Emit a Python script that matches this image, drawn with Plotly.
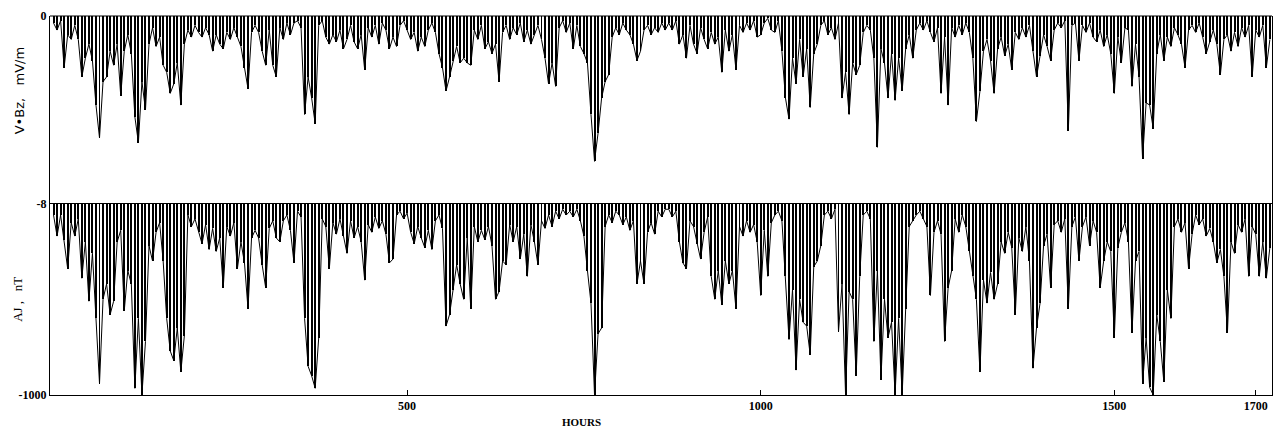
import plotly.graph_objects as go

# Sample times (hours), one sample every 5 hours
hours = list(range(0, 1721, 5))

# V*Bz (mV/m) in six segments
vbz_a = [-0.3,-0.6,-0.2,-2.2,-0.8,-1.0,-0.4,-1.0,-2.6,-1.8,
         -1.2,-1.9,-3.8,-5.2,-2.8,-2.6,-1.5,-2.1,-1.2,-3.4,
         -1.5,-0.8,-1.6,-4.3,-5.4,-2.8,-4.0,-1.2,-0.5,-1.3,
         -0.9,-2.1,-2.4,-3.3,-2.9,-2.0,-3.8,-1.2,-0.6,-0.9,
         -0.4,-0.7,-0.9,-0.5,-0.8,-1.5,-0.8,-1.2,-1.4,-0.7,
         -1.0,-0.5,-0.9,-1.3,-2.2,-3.1,-0.7,-0.4]
vbz_b = [-0.7,-1.5,-2.1,-0.6,-2.1,-2.6,-0.5,-1.0,-0.3,-0.8,
         -0.3,-0.2,-0.5,-4.2,-2.6,-3.5,-4.6,-0.4,-0.2,-0.9,
         -1.2,-0.8,-1.1,-0.6,-1.4,-1.0,-0.4,-1.1,-1.4,-0.8,
         -2.3,-0.5,-0.9,-0.4,-1.2,-0.3,-0.6,-1.4,-0.9,-1.3,
         -0.4,-0.2,-0.6,-1.0,-0.7,-1.5,-0.9,-1.3,-0.6,-0.3,
         -0.7,-1.6,-2.2,-3.2,-2.6,-1.9,-1.3,-2.0]
vbz_c = [-1.8,-2.0,-2.1,-0.6,-1.0,-0.4,-1.4,-1.1,-1.6,-1.2,
         -2.8,-0.7,-0.4,-1.0,-0.5,-0.8,-0.3,-1.1,-0.6,-1.2,
         -0.8,-0.4,-1.0,-1.8,-2.9,-2.0,-3.0,-0.5,-0.2,-0.7,
         -0.3,-1.4,-0.4,-1.3,-1.6,-2.0,-4.2,-6.2,-5.0,-3.5,
         -2.8,-2.5,-0.9,-0.5,-0.8,-0.3,-0.6,-0.8,-1.2,-1.9,
         -1.5,-0.6,-0.4,-0.8,-0.5,-0.7,-0.3,-0.6]
vbz_d = [-0.3,-0.6,-0.2,-1.2,-0.8,-1.8,-0.4,-1.2,-1.6,-0.5,
         -1.0,-1.4,-0.7,-1.2,-0.9,-2.4,-0.6,-1.5,-0.8,-2.3,
         -0.4,-0.7,-0.3,-0.6,-0.2,-0.9,-0.8,-0.3,-0.1,-0.6,
         -0.7,-0.2,-1.5,-3.5,-4.4,-1.8,-2.9,-1.0,-2.6,-1.4,
         -3.9,-1.6,-1.2,-0.4,-0.2,-0.8,-0.5,-1.0,-0.3,-3.5,
         -2.4,-4.2,-2.0,-2.5,-2.1,-0.7,-0.4,-0.6]
vbz_e = [-1.8,-5.6,-1.4,-2.0,-3.5,-1.6,-3.6,-1.8,-3.2,-1.4,
         -0.8,-1.8,-0.6,-0.3,-0.6,-0.2,-0.7,-1.1,-0.5,-3.3,
         -0.9,-3.8,-0.5,-0.9,-0.4,-0.8,-0.3,-0.7,-1.8,-4.5,
         -3.2,-1.5,-1.0,-1.9,-3.3,-1.4,-0.9,-1.7,-1.2,-2.3,
         -0.7,-1.0,-0.5,-0.9,-0.4,-1.5,-2.6,-1.7,-0.8,-1.3,
         -1.9,-0.6,-0.3,-0.5,-0.2,-4.9,-0.4,-0.3]
vbz_f = [-1.9,-0.4,-0.7,-0.3,-0.9,-1.1,-0.6,-1.3,-0.8,-1.6,
         -3.3,-0.9,-2.0,-0.5,-0.6,-3.0,-1.2,-2.6,-6.1,-3.7,
         -3.8,-4.8,-1.6,-0.8,-1.9,-0.9,-1.3,-0.5,-0.8,-1.2,
         -2.2,-0.6,-0.4,-0.7,-0.3,-0.9,-1.6,-1.1,-0.6,-1.2,
         -2.5,-1.0,-0.8,-1.5,-0.7,-1.3,-0.5,-0.9,-0.4,-2.6,
         -0.6,-0.9,-0.4,-2.2,-1.0]

# AJ index (nT) in six segments
aj_a = [-60,-170,-60,-190,-340,-100,-170,-80,-390,-200,
        -510,-260,-600,-940,-500,-420,-580,-510,-200,-140,
        -560,-350,-420,-965,-600,-1000,-720,-220,-300,-150,
        -100,-300,-600,-770,-820,-650,-880,-690,-60,-120,
        -80,-150,-210,-110,-240,-130,-250,-180,-440,-120,
        -170,-100,-340,-200,-310,-550,-180,-140]
aj_b = [-180,-320,-440,-130,-90,-180,-200,-90,-60,-140,
        -310,-40,-70,-600,-850,-900,-965,-700,-80,-120,
        -340,-100,-160,-80,-170,-260,-90,-180,-120,-200,
        -400,-110,-150,-70,-130,-90,-160,-310,-290,-60,
        -40,-80,-50,-150,-210,-120,-180,-230,-140,-240,
        -90,-60,-130,-640,-580,-450,-320,-420]
aj_c = [-500,-180,-550,-120,-200,-140,-190,-120,-220,-500,
        -460,-300,-320,-110,-200,-120,-290,-160,-380,-110,
        -200,-320,-90,-130,-60,-120,-40,-80,-30,-60,
        -40,-70,-30,-90,-170,-350,-520,-1000,-680,-650,
        -120,-60,-100,-40,-60,-110,-70,-140,-90,-420,
        -300,-420,-150,-100,-160,-40,-70,-30]
aj_d = [-30,-70,-40,-200,-310,-340,-90,-120,-210,-290,
        -150,-70,-380,-500,-350,-530,-300,-420,-350,-550,
        -120,-170,-90,-150,-110,-200,-480,-140,-380,-100,
        -60,-40,-90,-380,-710,-450,-870,-500,-620,-640,
        -790,-330,-300,-220,-60,-40,-80,-30,-670,-420,
        -1000,-460,-500,-900,-380,-60,-40,-80]
aj_e = [-720,-350,-920,-500,-700,-620,-1000,-600,-1000,-550,
        -120,-90,-60,-40,-80,-120,-480,-150,-90,-160,
        -720,-440,-350,-80,-150,-60,-120,-250,-380,-500,
        -880,-400,-520,-360,-500,-420,-200,-260,-150,-230,
        -580,-180,-250,-120,-300,-860,-650,-520,-220,-160,
        -440,-110,-90,-150,-80,-550,-120,-70]
aj_f = [-300,-120,-70,-220,-90,-150,-440,-300,-200,-250,
        -700,-230,-150,-100,-200,-675,-300,-250,-940,-700,
        -960,-1000,-580,-720,-930,-450,-600,-120,-80,-150,
        -100,-340,-160,-60,-110,-80,-170,-130,-200,-310,
        -240,-380,-675,-200,-260,-110,-150,-80,-380,-120,
        -160,-380,-200,-390,-230]

vbz = vbz_a + vbz_b + vbz_c + vbz_d + vbz_e + vbz_f
aj = aj_a + aj_b + aj_c + aj_d + aj_e + aj_f
assert len(vbz) == len(hours) == len(aj)

x_ticks = [500, 1000, 1500, 1700]

fig = go.Figure()
# vertical strokes from the zero line (hatched look of the original trace)
fig.add_trace(go.Bar(x=hours, y=vbz, width=2.8, marker=dict(color="black", line=dict(width=0)),
                     xaxis="x", yaxis="y", hoverinfo="skip"))
fig.add_trace(go.Bar(x=hours, y=aj, width=2.8, marker=dict(color="black", line=dict(width=0)),
                     xaxis="x2", yaxis="y2", hoverinfo="skip"))
# the trace itself
fig.add_trace(go.Scatter(x=hours, y=vbz, mode="lines",
                         line=dict(color="black", width=1),
                         xaxis="x", yaxis="y", hoverinfo="skip"))
fig.add_trace(go.Scatter(x=hours, y=aj, mode="lines",
                         line=dict(color="black", width=1),
                         xaxis="x2", yaxis="y2", hoverinfo="skip"))

tickfont = dict(family="Liberation Serif", size=12, color="black", weight="bold")
axis_common = dict(linecolor="black", linewidth=1, showgrid=False, zeroline=False)

split = 195 / 386
fig.update_layout(
    width=1282, height=439,
    margin=dict(l=50, r=10, t=9, b=44),
    paper_bgcolor="white", plot_bgcolor="white",
    showlegend=False, bargap=0,
    xaxis=dict(domain=[0, 1], anchor="y", range=[-5, 1723], showline=False,
               showticklabels=False, ticks="", **axis_common),
    xaxis2=dict(domain=[0, 1], anchor="y2", range=[-5, 1723], matches="x",
                tickvals=x_ticks, ticktext=[str(v) for v in x_ticks],
                ticks="inside", ticklen=5, tickcolor="black", showline=True,
                mirror=True, tickfont=tickfont, **axis_common),
    yaxis=dict(domain=[split, 1], range=[-8, 0], tickvals=[0, -8],
               ticktext=["0", "-8"], ticks="", showline=True, mirror=True,
               tickfont=tickfont, **axis_common),
    yaxis2=dict(domain=[0, split], range=[-1000, 0], tickvals=[-1000],
                ticktext=["-1000"], ticks="", showline=True, mirror=True,
                tickfont=tickfont, **axis_common),
    shapes=[dict(type="line", xref="paper", yref="paper", x0=0, x1=1, y0=1, y1=1,
                 line=dict(color="black", width=1))],
    annotations=[
        dict(text="V\u2022Bz,   mV/m", xref="paper", yref="paper",
             x=0, xshift=-31, y=0.759, yshift=16, textangle=-90,
             showarrow=False, xanchor="center", yanchor="middle",
             font=dict(family="DejaVu Sans", size=13, color="black")),
        dict(text="AJ ,   nT", xref="paper", yref="paper",
             x=0, xshift=-32, y=split * 0.5 - 0.02, yshift=7, textangle=-90,
             showarrow=False, xanchor="center", yanchor="middle",
             font=dict(family="Liberation Serif", size=13, color="black")),
        dict(text="<b>HOURS</b>", xref="paper", yref="paper",
             x=(581 - 50) / 1222, y=-0.072, showarrow=False,
             xanchor="center", yanchor="middle",
             font=dict(family="Liberation Serif", size=11, color="black")),
    ],
)

fig.write_html("out.html", config={"displayModeBar": False, "staticPlot": True})

# remove the default page margin so the figure sits at the window origin
with open("out.html", "r", encoding="utf-8") as f:
    html = f.read()
html = html.replace("<head>", "<head><style>html,body{margin:0;padding:0;overflow:hidden;}</style>", 1)
with open("out.html", "w", encoding="utf-8") as f:
    f.write(html)
